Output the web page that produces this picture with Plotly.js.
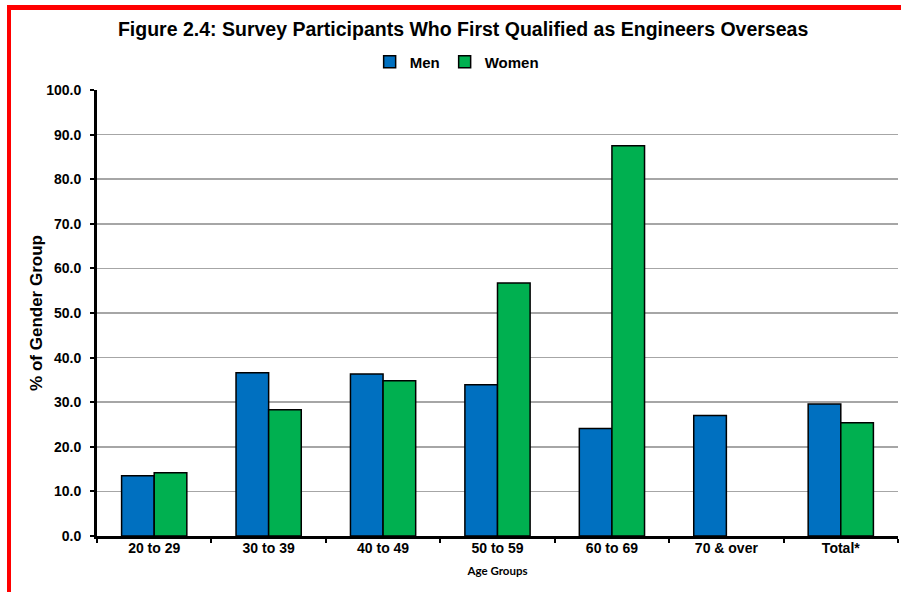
<!DOCTYPE html>
<html>
<head>
<meta charset="utf-8">
<script src="https://cdn.plot.ly/plotly-3.0.1.min.js"></script>
<style>
html,body{margin:0;padding:0;background:#fff;overflow:hidden;}
#chart{width:901px;height:592px;position:relative;}
#frame{position:absolute;left:7px;top:5px;width:1000px;height:700px;border-left:4px solid #ff0000;border-top:5px solid #ff0000;pointer-events:none;}
</style>
</head>
<body>
<div id="chart"></div>
<div id="frame"></div>
<script>
var categories = ["20 to 29", "30 to 39", "40 to 49", "50 to 59", "60 to 69", "70 & over", "Total*"];
var menValues = [13.5, 36.6, 36.3, 33.9, 24.1, 27.0, 29.6];
var womenValues = [14.2, 28.3, 34.8, 56.7, 87.5, null, 25.4];
var yTickValues = [0, 10, 20, 30, 40, 50, 60, 70, 80, 90, 100];
var yTickLabels = ["0.0", "10.0", "20.0", "30.0", "40.0", "50.0", "60.0", "70.0", "80.0", "90.0", "100.0"];

var font = "Liberation Sans, Arial, sans-serif";

var traces = [
  {type: "bar", name: "Men", x: categories, y: menValues,
   marker: {color: "#0070C0", line: {color: "#000000", width: 1.5}}},
  {type: "bar", name: "Women", x: categories, y: womenValues,
   marker: {color: "#00B050", line: {color: "#000000", width: 1.5}}}
];

var layout = {
  width: 901, height: 592,
  margin: {l: 97, r: 3, t: 90, b: 56, pad: 0},
  paper_bgcolor: "#ffffff", plot_bgcolor: "#ffffff",
  font: {family: font, color: "#000000"},
  barmode: "group", bargap: 0.43, bargroupgap: 0,
  title: {text: "<b>Figure 2.4: Survey Participants Who First Qualified as Engineers Overseas</b>",
          font: {family: font, size: 19.5, color: "#000000"},
          x: 0.514, xanchor: "center", y: 0.951, yanchor: "middle"},
  showlegend: true,
  legend: {orientation: "h", x: 0.449, xanchor: "center", y: 1.063, yanchor: "middle",
           font: {family: font, size: 15, color: "#000000", weight: "bold"}, traceorder: "normal",
           itemwidth: 30, tracegroupgap: 0, bgcolor: "rgba(0,0,0,0)"},
  xaxis: {
    type: "category",
    showline: true, linecolor: "#000000", linewidth: 3,
    ticks: "outside", tickson: "boundaries", ticklen: 4, tickwidth: 2, tickcolor: "#000000",
    tickfont: {family: font, size: 14, color: "#000000", weight: "bold"},
    ticklabelstandoff: -3,
    showgrid: false, zeroline: false,
    title: {text: "<b>Age Groups</b>", font: {family: "Lato, Open Sans, sans-serif", size: 11.5, color: "#000000"}, standoff: 13}
  },
  yaxis: {
    range: [0, 100], autorange: false,
    tickmode: "array", tickvals: yTickValues, ticktext: yTickLabels,
    showline: true, linecolor: "#000000", linewidth: 3,
    ticks: "outside", ticklen: 4, tickwidth: 2, tickcolor: "#000000",
    tickfont: {family: font, size: 14, color: "#000000", weight: "bold"},
    ticklabelstandoff: 6,
    showgrid: true, gridcolor: "#a6a6a6", gridwidth: 1.5,
    zeroline: false,
    title: {text: "<b>% of Gender Group</b>", font: {family: font, size: 17, color: "#000000"}, standoff: 0}
  }
};

Plotly.newPlot("chart", traces, layout, {displayModeBar: false, staticPlot: true});
</script>
</body>
</html>
